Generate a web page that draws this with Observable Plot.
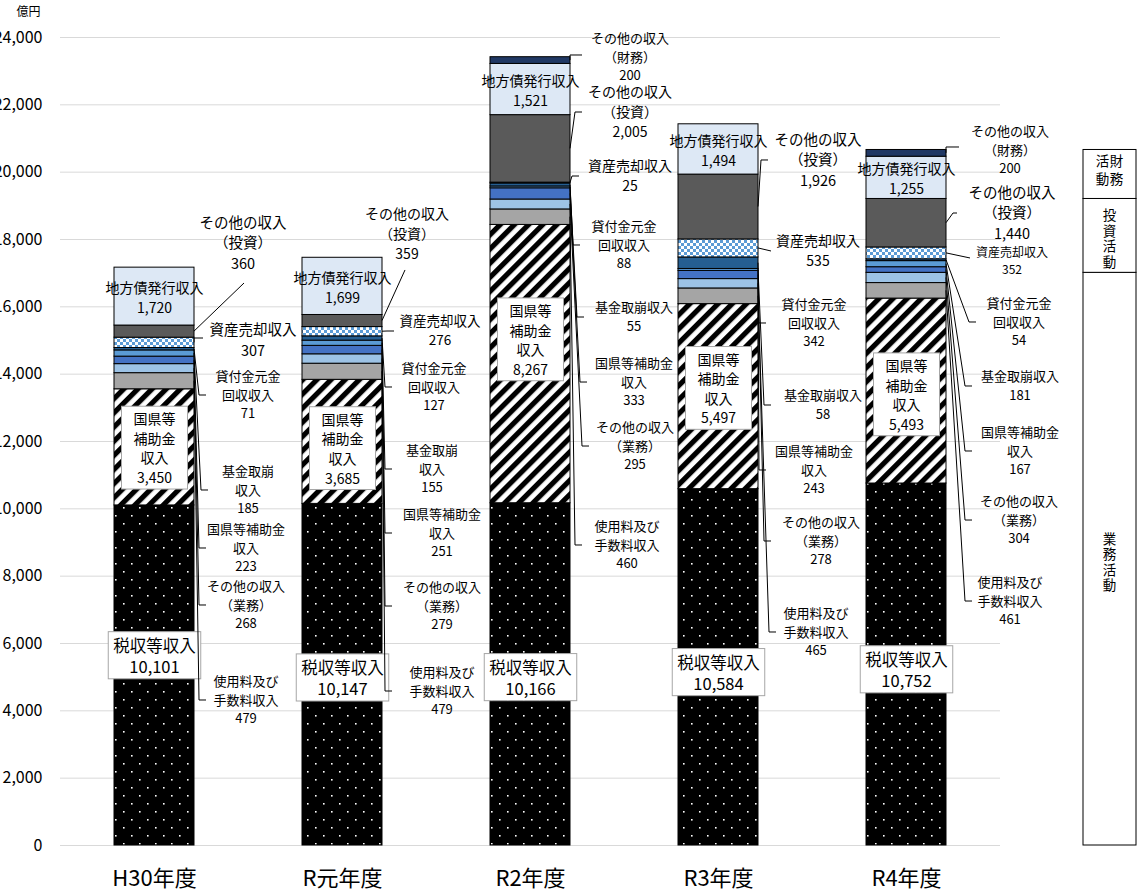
<!DOCTYPE html>
<html lang="ja">
<head>
<meta charset="utf-8">
<title>資金収支の推移</title>
<script src="https://cdn.jsdelivr.net/npm/d3@7"></script>
<script src="https://cdn.jsdelivr.net/npm/@observablehq/plot@0.6"></script>
<style>
  html, body { margin: 0; padding: 0; background: #fff; }
  #chart { position: relative; width: 1137px; height: 892px; overflow: hidden; }
  [aria-label^="y-axis"] text { font-size: 16px; }
  [aria-label^="x-axis"] text { font-size: 22px; }
</style>
</head>
<body>
<div id="chart"></div>
<script>
// ---- data (億円) ----
const years = ["H30年度", "R元年度", "R2年度", "R3年度", "R4年度"];
const taxRevenue       = [10101, 10147, 10166, 10584, 10752]; // 税収等収入
const subsidyOperating = [3450, 3685, 8267, 5497, 5493];      // 国県等補助金収入（業務）
const feesCharges      = [479, 479, 460, 465, 461];           // 使用料及び手数料収入
const otherOperating   = [268, 279, 295, 278, 304];           // その他の収入（業務）
const subsidyInvesting = [223, 251, 333, 243, 167];           // 国県等補助金収入（投資）
const fundDrawdown     = [185, 155, 55, 58, 181];             // 基金取崩収入
const loanRepayment    = [71, 127, 88, 342, 54];              // 貸付金元金回収収入
const assetSales       = [307, 276, 25, 535, 352];            // 資産売却収入
const otherInvesting   = [360, 359, 2005, 1926, 1440];        // その他の収入（投資）
const bondIssuance     = [1720, 1699, 1521, 1494, 1255];      // 地方債発行収入
const otherFinancing   = [0, 0, 200, 0, 200];                 // その他の収入（財務）
const yTicks = [0, 2000, 4000, 6000, 8000, 10000, 12000, 14000, 16000, 18000, 20000, 22000, 24000];

// stacking order, bottom to top
const seriesKeys = ["taxRevenue", "subsidyOperating", "feesCharges", "otherOperating",
  "subsidyInvesting", "fundDrawdown", "loanRepayment", "assetSales", "otherInvesting",
  "bondIssuance", "otherFinancing"];
const seriesValues = {taxRevenue, subsidyOperating, feesCharges, otherOperating,
  subsidyInvesting, fundDrawdown, loanRepayment, assetSales, otherInvesting,
  bondIssuance, otherFinancing};

// activity groups shown in the side key (vertical text, columns right to left)
const activityGroups = [
  {columns: ["業務活動"], keys: ["taxRevenue", "subsidyOperating", "feesCharges", "otherOperating"], shift: 4},
  {columns: ["投資活動"], keys: ["subsidyInvesting", "fundDrawdown", "loanRepayment", "assetSales", "otherInvesting"], shift: 4},
  {columns: ["財務", "活動"], keys: ["bondIssuance", "otherFinancing"], shift: -2}
];

// callout label names
const calloutNames = {
  feesCharges: ["使用料及び", "手数料収入"],
  otherOperating: ["その他の収入", "（業務）"],
  subsidyInvesting: ["国県等補助金", "収入"],
  fundDrawdown: ["基金取崩収入"],
  loanRepayment: ["貸付金元金", "回収収入"],
  assetSales: ["資産売却収入"],
  otherInvesting: ["その他の収入", "（投資）"],
  otherFinancing: ["その他の収入", "（財務）"]
};

// ---- styles ----
const FONT = "'Noto Sans CJK JP', 'Noto Sans', sans-serif";
const seriesFill = {
  taxRevenue: "url(#pat-dots)",
  subsidyOperating: "url(#pat-hatch)",
  feesCharges: "#a5a5a5",
  otherOperating: "#9dc3e6",
  subsidyInvesting: "#4472c4",
  fundDrawdown: "#5b9bd5",
  loanRepayment: "#255e91",
  assetSales: "url(#pat-check)",
  otherInvesting: "#5a5a5a",
  bondIssuance: "#dde8f5",
  otherFinancing: "#203864"
};

// placement of the outside labels: dx = label centre from bar centre (px),
// at = label centre (億円), ex/ey = leader end from bar edge / label centre (px)
const calloutLayout = [
  {year: "H30年度", key: "otherInvesting",   dx: 89,  at: 17881, ex: 50, ey: 40, stub: 0, fs: 14.5},
  {year: "H30年度", key: "assetSales",       dx: 99,  at: 15000, ex: 9,  ey: -2, stub: 9, fs: 14.5},
  {year: "H30年度", key: "loanRepayment",    dx: 94,  at: 13366, ex: 12},
  {year: "H30年度", key: "fundDrawdown",     dx: 94,  at: 10545, ex: 14, lines: ["基金取崩", "収入"]},
  {year: "H30年度", key: "subsidyInvesting", dx: 92,  at: 8822,  ex: 12},
  {year: "H30年度", key: "otherOperating",   dx: 92,  at: 7129,  ex: 12},
  {year: "H30年度", key: "feesCharges",      dx: 92,  at: 4307,  ex: 12},

  {year: "R元年度", key: "otherInvesting",   dx: 65,  at: 18149, ex: 23, ey: 36, stub: 0, fs: 14},
  {year: "R元年度", key: "assetSales",       dx: 98,  at: 15267, ex: 12, fs: 13.5},
  {year: "R元年度", key: "loanRepayment",    dx: 92,  at: 13604, ex: 10},
  {year: "R元年度", key: "fundDrawdown",     dx: 90,  at: 11168, ex: 10, lines: ["基金取崩", "収入"]},
  {year: "R元年度", key: "subsidyInvesting", dx: 100, at: 9267,  ex: 10},
  {year: "R元年度", key: "otherOperating",   dx: 100, at: 7099,  ex: 10},
  {year: "R元年度", key: "feesCharges",      dx: 100, at: 4574,  ex: 10},

  {year: "R2年度", key: "otherFinancing",    dx: 100, at: 23406, ex: 12, ey: -2, stub: 12},
  {year: "R2年度", key: "otherInvesting",    dx: 100, at: 21772, ex: 12, fs: 14},
  {year: "R2年度", key: "assetSales",        dx: 100, at: 19871, ex: 9,  fs: 14},
  {year: "R2年度", key: "loanRepayment",     dx: 94,  at: 17822, ex: 10},
  {year: "R2年度", key: "fundDrawdown",      dx: 104, at: 15683, ex: 14},
  {year: "R2年度", key: "subsidyInvesting",  dx: 104, at: 13752, ex: 17},
  {year: "R2年度", key: "otherOperating",    dx: 105, at: 11851, ex: 19},
  {year: "R2年度", key: "feesCharges",       dx: 97,  at: 8911,  ex: 12},

  {year: "R3年度", key: "otherInvesting",    dx: 100, at: 20347, ex: 10, fs: 14.5},
  {year: "R3年度", key: "assetSales",        dx: 100, at: 17644, ex: 13, stub: 0, fs: 14},
  {year: "R3年度", key: "loanRepayment",     dx: 96,  at: 15505, ex: 8},
  {year: "R3年度", key: "fundDrawdown",      dx: 105, at: 13069, ex: 13},
  {year: "R3年度", key: "subsidyInvesting",  dx: 96,  at: 11139, ex: 8},
  {year: "R3年度", key: "otherOperating",    dx: 103, at: 9030,  ex: 13},
  {year: "R3年度", key: "feesCharges",       dx: 98,  at: 6327,  ex: 18},

  {year: "R4年度", key: "otherFinancing",    dx: 104, at: 20644, ex: 13, ey: -3, stub: 13},
  {year: "R4年度", key: "otherInvesting",    dx: 106, at: 18772, ex: 11, stub: 4, fs: 14.5},
  {year: "R4年度", key: "assetSales",        dx: 106, at: 17347, ex: 24, ey: -3, stub: 0, fs: 12},
  {year: "R4年度", key: "loanRepayment",     dx: 113, at: 15535, ex: 30},
  {year: "R4年度", key: "fundDrawdown",      dx: 114, at: 13634, ex: 26},
  {year: "R4年度", key: "subsidyInvesting",  dx: 114, at: 11703, ex: 26},
  {year: "R4年度", key: "otherOperating",    dx: 113, at: 9653,  ex: 26},
  {year: "R4年度", key: "feesCharges",       dx: 104, at: 7247,  ex: 26}
];

// small nudges (億円) for the boxed labels inside the bars
const taxLabelShift = [594, -89, -89, -149, -149];
const subsidyLabelShift = [0, -178, 743, 267, -89];

// ---- stacked table ----
const fmt = d3.format(",");
const rows = [];
years.forEach((year, i) => {
  let base = 0;
  for (const key of seriesKeys) {
    const value = seriesValues[key][i];
    if (value > 0) rows.push({year, i, key, value, y1: base, y2: base + value, mid: base + value / 2});
    base += value;
  }
});

const taxLabels = rows.filter(d => d.key === "taxRevenue")
  .map(d => ({year: d.year, y: d.mid + taxLabelShift[d.i], text: `税収等収入\n${fmt(d.value)}`}));
const subsidyLabels = rows.filter(d => d.key === "subsidyOperating")
  .map(d => ({year: d.year, y: d.mid + subsidyLabelShift[d.i], text: `国県等\n補助金\n収入\n${fmt(d.value)}`}));
const bondLabels = rows.filter(d => d.key === "bondIssuance")
  .map(d => ({year: d.year, y: d.mid, text: `地方債発行収入\n${fmt(d.value)}`}));

const plot = Plot.plot({
  width: 1137,
  height: 892,
  marginTop: 37,
  marginRight: 137,
  marginBottom: 47,
  marginLeft: 60,
  style: {fontFamily: FONT, fontSize: "13px", color: "#000", background: "#fff", overflow: "visible"},
  x: {domain: years, paddingInner: 0.574, paddingOuter: 0.287, label: null, tickSize: 0, tickPadding: 25},
  y: {domain: [0, 24000], ticks: yTicks, tickFormat: fmt, label: null, tickSize: 0, tickPadding: 18},
  color: {type: "identity"},
  marks: [
    Plot.ruleY(yTicks, {stroke: "#d9d9d9", strokeWidth: 1}),
    Plot.barY(rows, {x: "year", y1: "y1", y2: "y2", fill: d => seriesFill[d.key], stroke: "#000", strokeWidth: 1}),
    Plot.text(bondLabels, {x: "year", y: "y", text: "text", fontSize: 14, lineHeight: 1.42, fill: "#000"}),
    Plot.text(subsidyLabels, {x: "year", y: "y", text: "text", fontSize: 14, lineHeight: 1.4, fill: "#000"}),
    Plot.text(taxLabels, {x: "year", y: "y", text: "text", fontSize: 16.5, lineHeight: 1.28, fill: "#000"}),
    Plot.text(["億円"], {frameAnchor: "top-left", dx: -32, dy: -25, textAnchor: "middle", lineAnchor: "middle", fontSize: 12, fill: "#000"})
  ]
});

document.getElementById("chart").appendChild(plot);

const svg = d3.select(plot);

// fill patterns
const defs = svg.insert("defs", ":first-child");
const dots = defs.append("pattern").attr("id", "pat-dots").attr("patternUnits", "userSpaceOnUse")
  .attr("width", 16).attr("height", 16);
dots.append("rect").attr("width", 16).attr("height", 16).attr("fill", "#000");
dots.append("rect").attr("x", 3).attr("y", 3).attr("width", 1.6).attr("height", 1.6).attr("fill", "#fff");
dots.append("rect").attr("x", 11).attr("y", 11).attr("width", 1.6).attr("height", 1.6).attr("fill", "#fff");

const hatch = defs.append("pattern").attr("id", "pat-hatch").attr("patternUnits", "userSpaceOnUse")
  .attr("width", 10).attr("height", 10).attr("patternTransform", "rotate(45)");
hatch.append("rect").attr("width", 10).attr("height", 10).attr("fill", "#fff");
hatch.append("rect").attr("width", 5.2).attr("height", 10).attr("fill", "#000");

const check = defs.append("pattern").attr("id", "pat-check").attr("patternUnits", "userSpaceOnUse")
  .attr("width", 6).attr("height", 6);
check.append("rect").attr("width", 6).attr("height", 6).attr("fill", "#fff");
check.append("rect").attr("width", 3).attr("height", 3).attr("fill", "#5b9bd5");
check.append("rect").attr("x", 3).attr("y", 3).attr("width", 3).attr("height", 3).attr("fill", "#5b9bd5");

// white boxes behind the labels inside the bars
function boxLabels(prefix, padX, padY) {
  plot.querySelectorAll("text").forEach(t => {
    if (!t.textContent.startsWith(prefix)) return;
    const b = t.getBBox();
    const r = document.createElementNS("http://www.w3.org/2000/svg", "rect");
    r.setAttribute("x", b.x - padX);
    r.setAttribute("y", b.y - padY);
    r.setAttribute("width", b.width + 2 * padX);
    r.setAttribute("height", b.height + 2 * padY);
    r.setAttribute("fill", "#fff");
    r.setAttribute("stroke", "#a6a6a6");
    r.setAttribute("stroke-width", 1);
    const tr = t.getAttribute("transform");
    if (tr) r.setAttribute("transform", tr);
    t.parentNode.insertBefore(r, t);
  });
}
boxLabels("税収等収入", 5, 1);
boxLabels("国県等補助金収入", 12, 2);

// callout labels with leader lines
const xs = plot.scale("x");
const ys = plot.scale("y");
const bw = xs.bandwidth;
const callouts = svg.append("g").attr("aria-label", "callouts")
  .attr("font-family", FONT).attr("fill", "#000");
for (const c of calloutLayout) {
  const row = rows.find(r => r.year === c.year && r.key === c.key);
  if (!row) continue;
  const left = xs.apply(c.year);
  const right = left + bw;
  const center = left + bw / 2;
  const lx = center + c.dx;
  const ly = ys.apply(c.at);
  const ex = right + c.ex;
  const ey = ly + (c.ey ?? 0);
  const stub = c.stub ?? 7;
  callouts.append("path")
    .attr("d", `M${right},${ys.apply(row.mid)}L${ex - stub},${ey}L${ex},${ey}`)
    .attr("fill", "none").attr("stroke", "#000").attr("stroke-width", 1);
  const lines = [...(c.lines ?? calloutNames[c.key]), fmt(row.value)];
  const fs = c.fs ?? 13;
  const lh = fs * 1.42;
  const t = callouts.append("text").attr("text-anchor", "middle").attr("font-size", fs);
  lines.forEach((s, k) => {
    t.append("tspan").attr("x", lx).attr("y", ly + (k - (lines.length - 1) / 2) * lh)
      .attr("dy", "0.36em").text(s);
  });
}

// activity key on the right, sized by the last year's stack
const last = years.length - 1;
const key = svg.append("g").attr("aria-label", "activity key").attr("font-family", FONT);
let base = 0;
for (const g of activityGroups) {
  const total = d3.sum(g.keys, k => seriesValues[k][last]);
  const yTop = ys.apply(base + total);
  const yBottom = ys.apply(base);
  base += total;
  key.append("rect").attr("x", 1083).attr("y", yTop).attr("width", 53).attr("height", yBottom - yTop)
    .attr("fill", "#fff").attr("stroke", "#000").attr("stroke-width", 1);
  const cy = (yTop + yBottom) / 2 + g.shift;
  const n = g.columns.length;
  g.columns.forEach((s, k) => {
    // columns run right to left
    const cx = 1109.5 + ((n - 1) / 2 - k) * 14;
    key.append("text")
      .attr("x", cx).attr("y", cy)
      .attr("writing-mode", "vertical-rl")
      .attr("text-anchor", "middle")
      .attr("letter-spacing", n > 1 ? 4 : 2)
      .attr("font-size", 13.5).attr("fill", "#000")
      .text(s);
  });
}
</script>
</body>
</html>
